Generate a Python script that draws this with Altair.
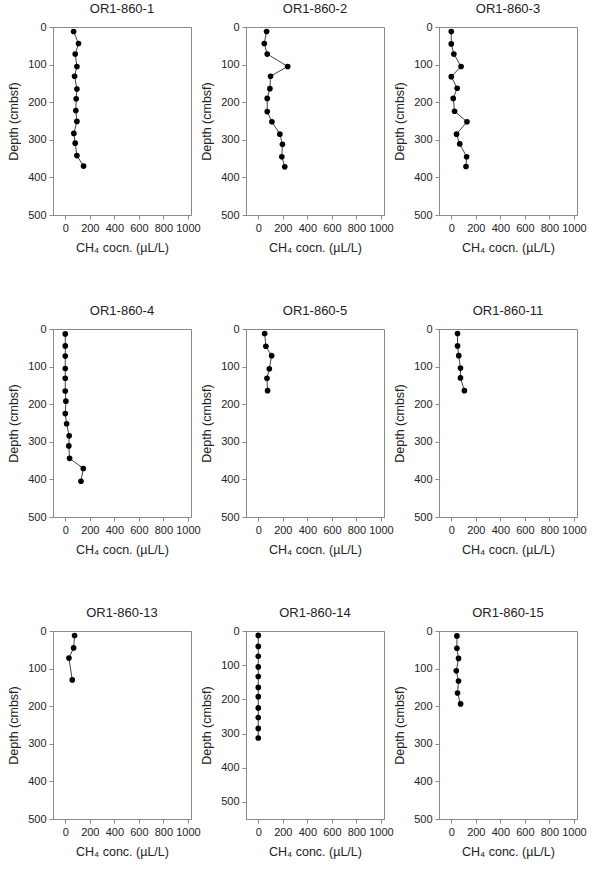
import altair as alt
import pandas as pd

# Methane profiles for nine cores of cruise OR1-860
core_names = [
    "OR1-860-1", "OR1-860-2", "OR1-860-3",
    "OR1-860-4", "OR1-860-5", "OR1-860-11",
    "OR1-860-13", "OR1-860-14", "OR1-860-15",
]

depth_1 = [12, 44, 72, 105, 131, 165, 191, 222, 251, 283, 309, 342, 370]
ch4_1 = [68, 108, 81, 95, 76, 95, 89, 86, 95, 70, 81, 95, 149]

depth_2 = [12, 44, 72, 105, 131, 164, 190, 225, 252, 285, 312, 345, 372]
ch4_2 = [68, 49, 73, 240, 100, 95, 73, 73, 111, 176, 197, 192, 216]

depth_3 = [12, 45, 72, 105, 132, 163, 190, 224, 252, 285, 311, 345, 371]
ch4_3 = [0, 0, 21, 80, 0, 48, 16, 27, 128, 43, 69, 125, 120]

depth_4 = [13, 45, 72, 105, 131, 165, 192, 225, 252, 284, 311, 344, 371, 405]
ch4_4 = [0, 0, 0, 0, 0, 0, 5, 0, 11, 32, 29, 35, 147, 128]

depth_5 = [12, 46, 71, 106, 131, 164]
ch4_5 = [52, 62, 109, 90, 71, 76]

depth_11 = [12, 45, 71, 104, 130, 164]
ch4_11 = [51, 51, 61, 75, 75, 107]

depth_13 = [12, 45, 72, 130]
ch4_13 = [76, 68, 30, 57]

depth_14 = [13, 45, 74, 105, 133, 165, 192, 225, 253, 285, 313]
ch4_14 = [0, 0, 0, 0, 0, 0, 0, 0, 0, 0, 0]

depth_15 = [13, 46, 73, 106, 133, 165, 194]
ch4_15 = [46, 46, 59, 41, 59, 51, 76]

profiles = [
    (depth_1, ch4_1), (depth_2, ch4_2), (depth_3, ch4_3),
    (depth_4, ch4_4), (depth_5, ch4_5), (depth_11, ch4_11),
    (depth_13, ch4_13), (depth_14, ch4_14), (depth_15, ch4_15),
]

x_ticks = [0, 200, 400, 600, 800, 1000]
y_ticks = [0, 100, 200, 300, 400, 500]
x_title_upper = "CH\u2084 cocn. (\u00b5L/L)"
x_title_lower = "CH\u2084 conc. (\u00b5L/L)"
y_title = "Depth (cmbsf)"

FONT = "Liberation Sans"


def panel(name, depth, ch4, x_title, y_max=500):
    df = pd.DataFrame({"depth": depth, "ch4": ch4, "seq": list(range(len(depth)))})
    base = alt.Chart(df).encode(
        x=alt.X(
            "ch4:Q",
            scale=alt.Scale(domain=[-100, 1025], nice=False, zero=False),
            axis=alt.Axis(values=x_ticks, title=x_title, format="d"),
        ),
        y=alt.Y(
            "depth:Q",
            scale=alt.Scale(domain=[0, y_max], reverse=True, nice=False, zero=False),
            axis=alt.Axis(values=y_ticks, title=y_title, format="d"),
        ),
    )
    line = base.mark_line(color="#111111", strokeWidth=0.8).encode(order="seq:Q")
    dots = base.mark_circle(size=32, color="#000000", opacity=1)
    return (line + dots).properties(width=138, height=188, title=name)


panels = []
for i, (name, (d, c)) in enumerate(zip(core_names, profiles)):
    xt = x_title_lower if i >= 6 else x_title_upper
    ymax = 550 if name == "OR1-860-14" else 500
    panels.append(panel(name, d, c, xt, ymax))

chart = (
    alt.concat(*panels, columns=3, spacing={"row": 114, "column": 55}, bounds="flush")
    .properties(padding={"left": 7, "top": 2, "right": 5, "bottom": 5})
    .configure(background="white")
    .configure_view(stroke="#8a8a8a", strokeWidth=1)
    .configure_axis(
        grid=False,
        domainColor="#8a8a8a",
        tickColor="#8a8a8a",
        tickSize=4,
        labelColor="#222222",
        titleColor="#222222",
        labelFont=FONT,
        titleFont=FONT,
        labelFontSize=11,
        titleFontSize=12.5,
        titleFontWeight="normal",
        labelPadding=3,
        labelFlush=False,
        labelOverlap=False,
    )
    .configure_axisY(titlePadding=7)
    .configure_axisX(titlePadding=8)
    .configure_title(font=FONT, fontSize=13, fontWeight="normal", color="#222222", offset=5)
)

chart.save("out.html", embed_options={"renderer": "svg", "actions": False})
